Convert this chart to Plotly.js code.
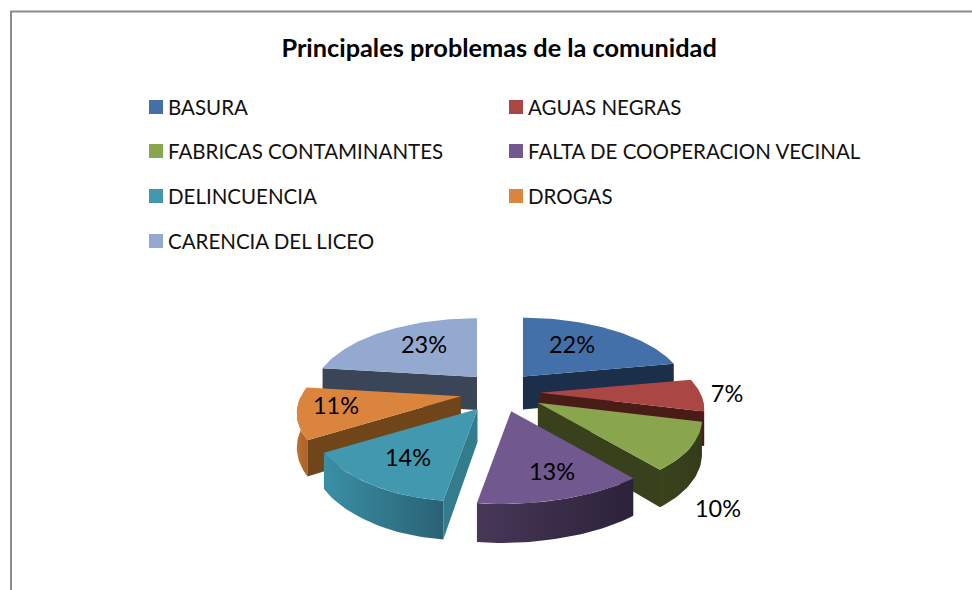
<!DOCTYPE html>
<html><head><meta charset="utf-8">
<script src="https://cdn.plot.ly/plotly-3.0.1.min.js"></script>
<style>html,body{margin:0;padding:0;background:#fff}#c{width:972px;height:590px}</style>
</head><body><div id="c"></div>
<script>
const titleText = 'Principales problemas de la comunidad';
const categories = ['BASURA','AGUAS NEGRAS','FABRICAS CONTAMINANTES','FALTA DE COOPERACION VECINAL','DELINCUENCIA','DROGAS','CARENCIA DEL LICEO'];
const values = [22,7,10,13,14,11,23];
const topColors = ['#4370a8','#aa4643','#89a54e','#71588f','#4198af','#db843d','#93a9cf'];
const wallColors = ['#1b2f4a','#4a1c18','#38401c','#3a2c4c','#337c8e','#6f4519','#3a4558'];
const arcLeft = ['#1b2f4a','#8a3533','#3a431c','#483758','#3a8fa5','#c0702f','#3a4558'];
const arcRight = ['#1b2f4a','#6d2a28','#333b1a','#2c2239','#2a6274','#a8622a','#3a4558'];
const pullFactor = [0.9,1,1.12,1,1.05,1,0.87];
const labelPos = [[572,347],[727,396],[718,511],[552,474],[408,460],[336,408],[424,347]];
const legendCells = [[156,107],[516,107],[156,151],[516,151],[156,196],[516,196],[156,241]];

const CX=500, CY=392, RX=160, RY=72, K=0.224, DEPTH=33, PX=40, PY=20;
const paint=[6,0,5,1,4,2,3];
const total=values.reduce((a,b)=>a+b,0);
const rad=d=>d*Math.PI/180;
let acc=0;
const slices=values.map(v=>{const s={a0:acc/total*360,a1:(acc+v)/total*360};acc+=v;return s;});
function rim(th,ox,oy){const u=Math.sin(rad(th)),v=-Math.cos(rad(th)),s=1/(1-K*v);
  return {x:ox+RX*u*s-(v>0?9*Math.pow(v,8):0),y:oy+RY*v*s,d:DEPTH*(1+0.18*v)};}
function face(pts,color,extra){
  const top=pts, bot=pts.slice().reverse();
  return Object.assign({type:'scatter',mode:'lines',fill:'toself',fillcolor:color,line:{width:0},hoverinfo:'skip',showlegend:false,
    x:top.map(p=>p.x).concat(bot.map(p=>p.x)),
    y:top.map(p=>p.y).concat(bot.map(p=>p.y+p.d))},extra||{});
}
const traces=[];
paint.forEach(i=>{
  const s=slices[i],mid=(s.a0+s.a1)/2;
  const ox=CX+PX*pullFactor[i]*Math.sin(rad(mid)),oy=CY-PY*Math.cos(rad(mid));
  const apex={x:ox,y:oy,d:DEPTH};
  const arc=[];
  const n=Math.max(2,Math.ceil((s.a1-s.a0)/1.5));
  for(let k=0;k<=n;k++)arc.push(rim(s.a0+(s.a1-s.a0)*k/n,ox,oy));
  const first=arc[0],last=arc[arc.length-1];
  // visible faces are those running right-to-left on screen
  const visArc=[];
  arc.forEach((p,k)=>{const th=s.a0+(s.a1-s.a0)*k/n;if(th>=90&&th<=270)visArc.push(p);});
  if(visArc.length>1) traces.push(face(visArc,arcRight[i],{
    fillgradient:{type:'horizontal',colorscale:[[0,arcLeft[i]],[1,arcRight[i]]]}}));
  if(last.x>apex.x) traces.push(face([last,apex],wallColors[i]));
  if(first.x<apex.x) traces.push(face([apex,first],wallColors[i]));
  traces.push({type:'scatter',mode:'lines',fill:'toself',fillcolor:topColors[i],line:{width:0},hoverinfo:'skip',showlegend:false,name:categories[i],
    x:[apex.x].concat(arc.map(p=>p.x),[apex.x]),y:[apex.y].concat(arc.map(p=>p.y),[apex.y])});
});
traces.push({type:'scatter',mode:'text',x:labelPos.map(p=>p[0]),y:labelPos.map(p=>p[1]),text:values.map(v=>v+'%'),
  textposition:'middle center',textfont:{family:'Lato, sans-serif',size:23.5,color:'#000'},hoverinfo:'skip',showlegend:false,cliponaxis:false});
traces.push({type:'scatter',mode:'markers',x:legendCells.map(p=>p[0]),y:legendCells.map(p=>p[1]),
  marker:{symbol:'square',size:14,color:topColors,line:{width:0}},hoverinfo:'skip',showlegend:false});
const annotations=categories.map((c,i)=>({xref:'x',yref:'y',x:legendCells[i][0]+10,y:legendCells[i][1],text:c,showarrow:false,
  xanchor:'left',yanchor:'middle',font:{family:'Lato, sans-serif',size:20.5,color:'#111'}}));
const layout={width:972,height:590,margin:{l:0,r:0,t:0,b:0},paper_bgcolor:'#fff',plot_bgcolor:'#fff',showlegend:false,
  title:{text:'<b>'+titleText+'</b>',x:0.5135,xanchor:'center',y:0.918,yanchor:'middle',font:{family:'Lato, sans-serif',size:25.3,color:'#000'}},
  xaxis:{range:[0,972],visible:false,fixedrange:true},
  yaxis:{range:[590,0],visible:false,fixedrange:true},
  annotations,
  shapes:[
    {type:'line',xref:'x',yref:'y',x0:11,x1:11,y0:11.5,y1:590,line:{color:'#8c8c8c',width:2},layer:'below'},
    {type:'line',xref:'x',yref:'y',x0:10,x1:972,y0:11.5,y1:11.5,line:{color:'#8c8c8c',width:2},layer:'below'}
  ]};
Plotly.newPlot('c',traces,layout,{displayModeBar:false,staticPlot:true});
</script></body></html>
